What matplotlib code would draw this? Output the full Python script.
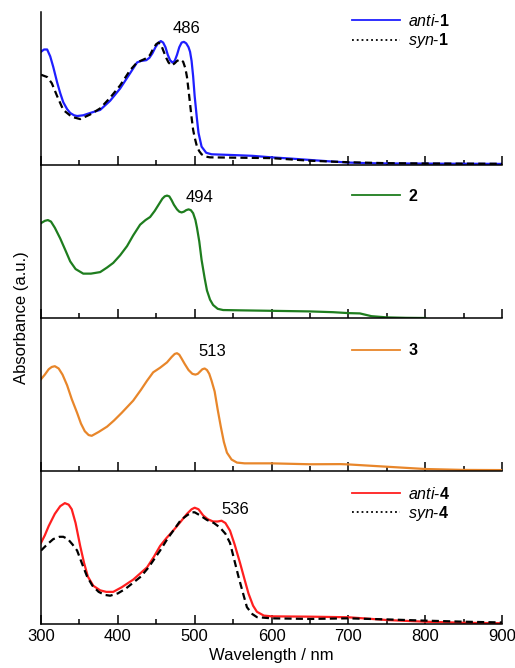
import numpy as np
import matplotlib
matplotlib.use('Agg')
import matplotlib.pyplot as plt
from matplotlib.lines import Line2D

plt.rcParams['font.family'] = ['Liberation Sans', 'DejaVu Sans']
plt.rcParams['mathtext.fontset'] = 'custom'
plt.rcParams['mathtext.rm'] = 'Liberation Sans'
plt.rcParams['mathtext.it'] = 'Liberation Sans:italic'
plt.rcParams['mathtext.bf'] = 'Liberation Sans:bold'

# anti-1 / syn-1
wl_anti1 = [300, 304, 308, 312, 316, 321, 325, 329, 334, 338, 343, 347, 355, 364, 377, 390, 403, 416, 425,
            430, 437, 441, 445, 449, 453, 456, 459, 462, 465, 468, 471, 474, 477, 480, 483, 486, 489, 492,
            494, 496, 498, 500, 503, 505, 509, 515, 522, 550, 575, 600, 625, 650, 675, 700, 725, 750,
            800, 850, 900]
abs_anti1 = [0.74, 0.755, 0.755, 0.71, 0.64, 0.54, 0.47, 0.41, 0.365, 0.34, 0.325, 0.32, 0.325, 0.34,
             0.36, 0.42, 0.50, 0.60, 0.67, 0.68, 0.685, 0.70, 0.73, 0.77, 0.80, 0.81, 0.80, 0.77, 0.72,
             0.685, 0.67, 0.68, 0.72, 0.77, 0.80, 0.805, 0.795, 0.77, 0.74, 0.68, 0.58, 0.45, 0.30, 0.21,
             0.12, 0.08, 0.07, 0.065, 0.06, 0.05, 0.042, 0.033, 0.024, 0.016, 0.012, 0.01, 0.009, 0.008,
             0.007]
wl_syn1 = [300, 308, 314, 321, 329, 340, 351, 364, 377, 390, 403, 416, 425, 438, 442, 446, 450, 453,
           456, 459, 463, 466, 470, 474, 477, 481, 485, 488, 490, 492, 494, 496, 498, 500, 503, 506, 509,
           514, 520, 550, 600, 650, 700, 750, 800, 900]
abs_syn1 = [0.59, 0.575, 0.535, 0.45, 0.36, 0.315, 0.30, 0.33, 0.37, 0.44, 0.52, 0.62, 0.67, 0.70,
            0.72, 0.76, 0.79, 0.80, 0.79, 0.75, 0.70, 0.67, 0.65, 0.665, 0.68, 0.69, 0.675, 0.63,
            0.575, 0.49, 0.40, 0.31, 0.23, 0.18, 0.12, 0.09, 0.07, 0.055, 0.05, 0.048, 0.045, 0.028,
            0.018, 0.012, 0.01, 0.008]

# 2
wl_2 = [300, 305, 309, 313, 318, 325, 332, 338, 345, 355, 365, 377, 386, 394, 403, 412, 420, 429, 436,
        442, 448, 453, 458, 461, 464, 467, 470, 473, 477, 480, 483, 486, 489, 492, 495, 498, 501, 503,
        506, 509, 513, 516, 520, 524, 530, 537, 560, 600, 650, 680, 700, 715, 730, 750, 775, 800]
abs_2 = [0.62, 0.635, 0.64, 0.63, 0.59, 0.52, 0.44, 0.37, 0.32, 0.29, 0.29, 0.30, 0.33, 0.36, 0.41,
         0.47, 0.54, 0.61, 0.64, 0.66, 0.70, 0.74, 0.78, 0.795, 0.80, 0.795, 0.77, 0.74, 0.71, 0.695,
         0.69, 0.695, 0.705, 0.71, 0.705, 0.685, 0.64, 0.59, 0.50, 0.38, 0.26, 0.18, 0.12, 0.085,
         0.06, 0.052, 0.05, 0.047, 0.043, 0.038, 0.032, 0.03, 0.012, 0.004, 0.001, 0.0]

# 3
wl_3 = [300, 305, 310, 314, 318, 323, 328, 334, 340, 347, 352, 357, 362, 366, 375, 386, 395, 405, 420,
        430, 438, 446, 455, 464, 470, 474, 477, 480, 483, 487, 492, 497, 501, 504, 507, 510, 513, 516,
        519, 522, 526, 530, 534, 538, 542, 548, 555, 565, 600, 650, 690, 700, 750, 800, 850, 900]
abs_3 = [0.60, 0.63, 0.665, 0.68, 0.685, 0.67, 0.63, 0.56, 0.47, 0.38, 0.31, 0.26, 0.235, 0.23, 0.255,
         0.29, 0.33, 0.38, 0.46, 0.53, 0.59, 0.645, 0.675, 0.71, 0.745, 0.765, 0.77, 0.76, 0.735, 0.70,
         0.66, 0.635, 0.63, 0.635, 0.65, 0.665, 0.67, 0.66, 0.635, 0.59, 0.52, 0.40, 0.29, 0.19, 0.12,
         0.075, 0.055, 0.05, 0.05, 0.044, 0.045, 0.043, 0.028, 0.013, 0.007, 0.006]

# anti-4 / syn-4
wl_anti4 = [300, 305, 310, 318, 325, 331, 336, 340, 345, 351, 356, 361, 368, 377, 385, 394, 405, 420,
            438, 447, 455, 463, 472, 482, 490, 496, 500, 505, 511, 517, 524, 530, 535, 540, 546, 552,
            559, 565, 570, 576, 581, 590, 600, 650, 700, 725, 750, 800, 850, 900]
abs_anti4 = [0.53, 0.58, 0.64, 0.72, 0.77, 0.79, 0.78, 0.75, 0.66, 0.51, 0.40, 0.31, 0.25, 0.22, 0.21,
             0.21, 0.24, 0.29, 0.37, 0.44, 0.51, 0.56, 0.61, 0.67, 0.72, 0.75, 0.76, 0.75, 0.71, 0.685,
             0.67, 0.67, 0.675, 0.66, 0.61, 0.52, 0.40, 0.29, 0.20, 0.12, 0.08, 0.055, 0.05, 0.048,
             0.044, 0.035, 0.026, 0.015, 0.008, 0.005]
wl_syn4 = [300, 308, 316, 324, 329, 335, 341, 347, 353, 360, 367, 375, 383, 390, 400, 410, 420, 430, 440,
           455, 465, 475, 482, 490, 496, 500, 507, 516, 525, 533, 540, 546, 551, 557, 563, 568, 575, 581,
           600, 650, 700, 750, 800, 850, 900]
abs_syn4 = [0.48, 0.52, 0.555, 0.57, 0.57, 0.555, 0.52, 0.48, 0.40, 0.31, 0.25, 0.21, 0.19, 0.185, 0.20,
            0.23, 0.27, 0.31, 0.37, 0.48, 0.56, 0.63, 0.68, 0.71, 0.73, 0.73, 0.71, 0.68, 0.66, 0.63,
            0.59, 0.53, 0.43, 0.31, 0.20, 0.11, 0.065, 0.045, 0.037, 0.033, 0.037, 0.03, 0.022, 0.015,
            0.01]

peak_labels = ['486', '494', '513', '536']
peak_pos = [(489, 0.895), (506, 0.79), (523, 0.78), (553, 0.75)]

blue = '#1f1fff'
green = '#1e7d1e'
orange = '#e8862a'
red = '#ff1f1f'

fig = plt.figure(figsize=(5.15, 6.68), dpi=100)
left, width = 41 / 515, 461 / 515
panel_h = 153 / 668
bottom0 = 1 - 624 / 668

axes = []
for i in range(4):
    ax = fig.add_axes([left, bottom0 + (3 - i) * panel_h, width, panel_h])
    axes.append(ax)

lw = 1.6
dash = (3.2, 1.9)

axes[0].plot(wl_anti1, abs_anti1, color=blue, lw=lw)
axes[0].plot(wl_syn1, abs_syn1, color='black', lw=lw, dashes=dash)
axes[1].plot(wl_2, abs_2, color=green, lw=lw)
axes[2].plot(wl_3, abs_3, color=orange, lw=lw)
axes[3].plot(wl_anti4, abs_anti4, color=red, lw=lw)
axes[3].plot(wl_syn4, abs_syn4, color='black', lw=lw, dashes=dash)

legends = [
    ([Line2D([], [], color=blue, lw=1.3), Line2D([], [], color='black', lw=1.3, ls=':')],
     [r'$\mathit{anti}$-$\mathbf{1}$', r'$\mathit{syn}$-$\mathbf{1}$'], 0.995),
    ([Line2D([], [], color=green, lw=1.3)], [r'$\mathbf{2}$'], 0.85),
    ([Line2D([], [], color=orange, lw=1.3)], [r'$\mathbf{3}$'], 0.84),
    ([Line2D([], [], color=red, lw=1.3), Line2D([], [], color='black', lw=1.3, ls=':')],
     [r'$\mathit{anti}$-$\mathbf{4}$', r'$\mathit{syn}$-$\mathbf{4}$'], 0.905),
]

for i, ax in enumerate(axes):
    ax.set_xlim(300, 900)
    ax.set_ylim(0, 1)
    for s in ['top', 'right']:
        ax.spines[s].set_visible(False)
    ax.spines['left'].set_linewidth(1.1)
    ax.spines['bottom'].set_linewidth(1.1)
    ax.set_yticks([])
    ax.set_xticks(np.arange(300, 901, 100))
    ax.set_xticks(np.arange(350, 900, 100), minor=True)
    ax.tick_params(axis='x', which='major', direction='in', length=6.5, width=1.1, labelsize=12)
    ax.tick_params(axis='x', which='minor', direction='in', length=3.3, width=1.1)
    if i < 3:
        ax.tick_params(axis='x', labelbottom=False)
    ax.patch.set_visible(False)

    handles, labels, ytop = legends[i]
    ax.legend(handles, labels, loc='upper left', bbox_to_anchor=(0.6746, ytop), frameon=False,
              fontsize=11.5, handlelength=3.0, handletextpad=0.5, labelspacing=0.15,
              borderpad=0, borderaxespad=0)

    ax.text(peak_pos[i][0], peak_pos[i][1], peak_labels[i], ha='center', va='center', fontsize=12)

axes[3].set_xlabel('Wavelength / nm', fontsize=12, labelpad=3)
fig.text(22 / 515, 1 - 318 / 668, 'Absorbance (a.u.)', rotation=90, ha='center', va='center', fontsize=12)

fig.savefig('out.png', dpi=100)
